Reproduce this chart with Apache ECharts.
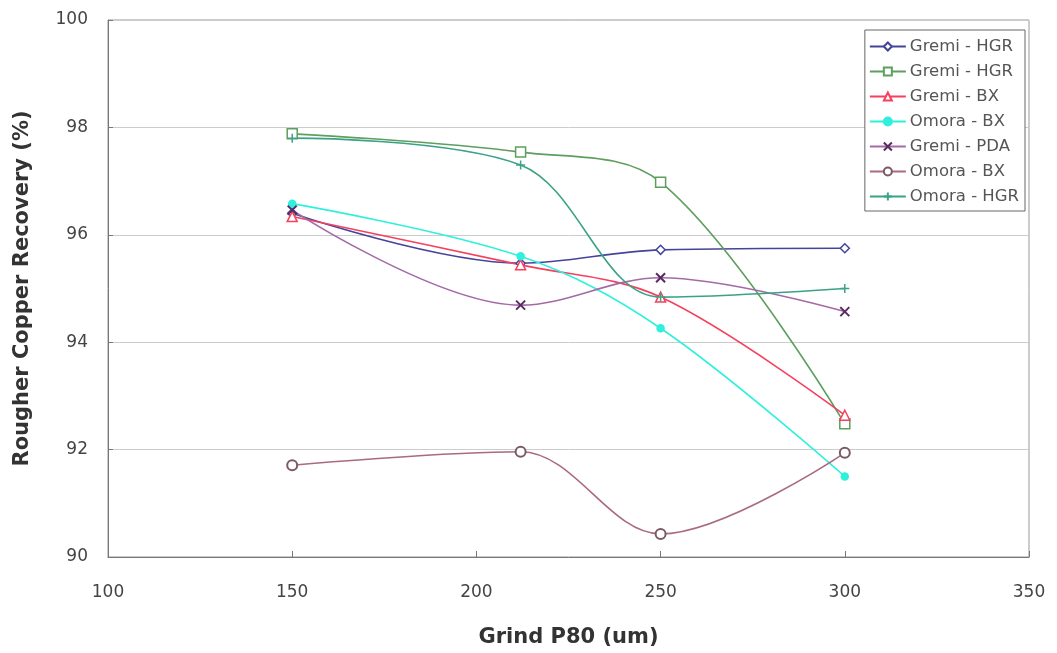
<!DOCTYPE html>
<html><head><meta charset="utf-8">
<script src="https://cdn.jsdelivr.net/npm/echarts@6/dist/echarts.min.js"></script>
<style>html,body{margin:0;padding:0;background:#fff}#c{width:1057px;height:653px}</style>
</head><body><div id="c"></div>
<script>
const xValues = [150, 212, 250, 300];
const gremiHGR1 = [96.40, 95.47, 95.72, 95.75];
const gremiHGR2 = [97.88, 97.54, 96.98, 92.48];
const gremiBX = [96.34, 95.44, 94.84, 92.64];
const omoraBX1 = [96.58, 95.60, 94.26, 91.50];
const gremiPDA = [96.46, 94.69, 95.20, 94.57];
const omoraBX2 = [91.71, 91.96, 90.43, 91.94];
const omoraHGR = [97.80, 97.30, 94.84, 95.00];
const seriesNames = ['Gremi - HGR', 'Gremi - HGR ', 'Gremi - BX', 'Omora - BX', 'Gremi - PDA', 'Omora - BX ', 'Omora - HGR'];
const xTicks = [100, 150, 200, 250, 300, 350];
const yTicks = [90, 92, 94, 96, 98, 100];

const X = 'path://M0,0L10,10M10,0L0,10';
const PLUS = 'path://M5,0L5,10M0,5L10,5';
const FONT = 'DejaVu Sans, Arial, sans-serif';
function pts(v){ return xValues.map((x,i)=>[x,v[i]]); }
function mk(name, data, color, symbol, size, filled, extra){
  return Object.assign({
    name, type:'line', data:pts(data), smooth:0.35,
    symbol, symbolSize:size, showSymbol:true,
    lineStyle:{color, width:1.6},
    itemStyle:{color: filled?color:'#fff', borderColor:color, borderWidth:1.5},
    emphasis:{disabled:true}
  }, extra||{});
}
const chart = echarts.init(document.getElementById('c'), null, {renderer:'canvas'});
chart.setOption({
  animation:false,
  backgroundColor:'#fff',
  grid:{left:108, right:28, top:20, bottom:96, show:true, borderColor:'#999', borderWidth:1},
  xAxis:{type:'value', min:100, max:350, interval:50,
    name:'Grind P80 (um)', nameLocation:'middle', nameGap:70,
    nameTextStyle:{fontFamily:FONT, fontWeight:'bold', fontSize:21, color:'#333'},
    axisLine:{lineStyle:{color:'#777'}}, axisTick:{inside:true, length:6, lineStyle:{color:'#777'}},
    axisLabel:{fontFamily:FONT, fontSize:17, color:'#444', margin:27},
    splitLine:{show:false}},
  yAxis:{type:'value', min:90, max:100, interval:2,
    name:'Rougher Copper Recovery (%)', nameLocation:'middle', nameGap:75,
    nameTextStyle:{fontFamily:FONT, fontWeight:'bold', fontSize:21, color:'#333'},
    axisLine:{show:true, lineStyle:{color:'#777'}}, axisTick:{show:true, inside:true, length:5, lineStyle:{color:'#777'}},
    axisLabel:{fontFamily:FONT, fontSize:17, color:'#444', margin:20},
    splitLine:{lineStyle:{color:'#ccc'}}},
  legend:{orient:'vertical', right:32, top:30, itemGap:8, itemWidth:36, itemHeight:10,
    backgroundColor:'#fff', borderColor:'#666', borderWidth:1, padding:[8,6,6,4],
    textStyle:{fontFamily:FONT, fontSize:16.5, color:'#555', padding:[0,0,0,-1]},
    formatter: n => n.trim()},
  series:[
    mk(seriesNames[0], gremiHGR1, '#44449a', 'diamond', 9, false),
    mk(seriesNames[1], gremiHGR2, '#5e9e5e', 'rect', 10, false),
    mk(seriesNames[2], gremiBX, '#f5405e', 'triangle', 10, false),
    mk(seriesNames[3], omoraBX1, '#2ff0dc', 'circle', 7, true),
    mk(seriesNames[4], gremiPDA, '#a46aa6', X, 9, false, {itemStyle:{color:'none', borderColor:'#5a2a60', borderWidth:2}}),
    mk(seriesNames[5], omoraBX2, '#a86b80', 'circle', 10, false, {itemStyle:{color:'#fff', borderColor:'#7a5a64', borderWidth:2}}),
    mk(seriesNames[6], omoraHGR, '#3aa286', PLUS, 9, false, {itemStyle:{color:'none', borderColor:'#3aa286', borderWidth:1.5}})
  ]
});
</script></body></html>
